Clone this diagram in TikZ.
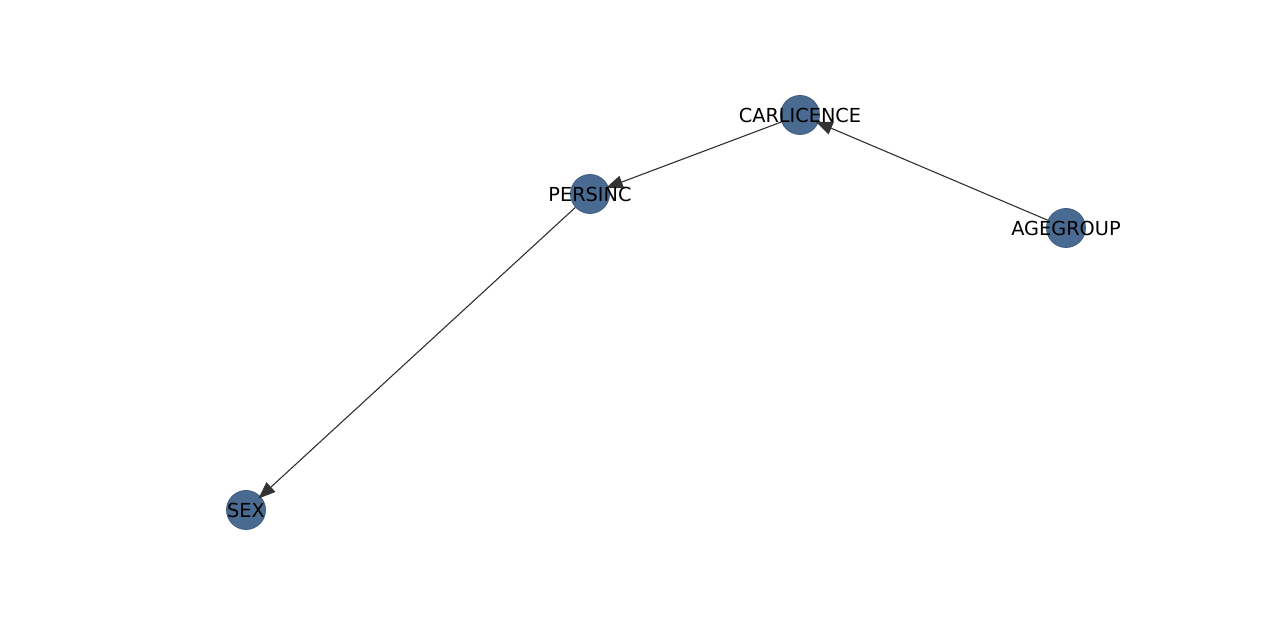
\documentclass[tikz,border=0pt]{standalone}
\usepackage{fontspec}
\setmainfont{DejaVu Sans}
\usetikzlibrary{arrows.meta}
\definecolor{nodefill}{HTML}{4A6B91}
\definecolor{nodeline}{HTML}{3E5C80}
\definecolor{edgecol}{HTML}{333333}
\tikzset{
  var/.style={circle, minimum size=39pt, inner sep=0pt, fill=nodefill, draw=nodeline, line width=0.8pt},
  varlabel/.style={font=\fontsize{19.3}{21}\selectfont, text=black, inner sep=0pt},
  dep/.style={draw=edgecol, line width=1.1pt, -{Triangle[length=17pt,width=13pt]}, fill=edgecol, shorten >=-3pt}
}
\begin{document}
\begin{tikzpicture}[x=1pt,y=1pt]
\useasboundingbox (0,0) rectangle (1280,620);
% variables
\node[var] (carl) at (800,505) {};
\node[var] (pers) at (590,426) {};
\node[var] (age)  at (1066,392) {};
\node[var] (sex)  at (246,110) {};
% dependencies
\draw[dep] (age) -- (carl);
\draw[dep] (carl) -- (pers);
\draw[dep] (pers) -- (sex);
% names
\node[varlabel] (carl-t) at (carl.center) {CARLICENCE};
\node[varlabel] (pers-t) at (pers.center) {PERSINC};
\node[varlabel] (age-t)  at (age.center)  {AGEGROUP};
\node[varlabel] (sex-t)  at (sex.center)  {SEX};
\end{tikzpicture}
\end{document}
